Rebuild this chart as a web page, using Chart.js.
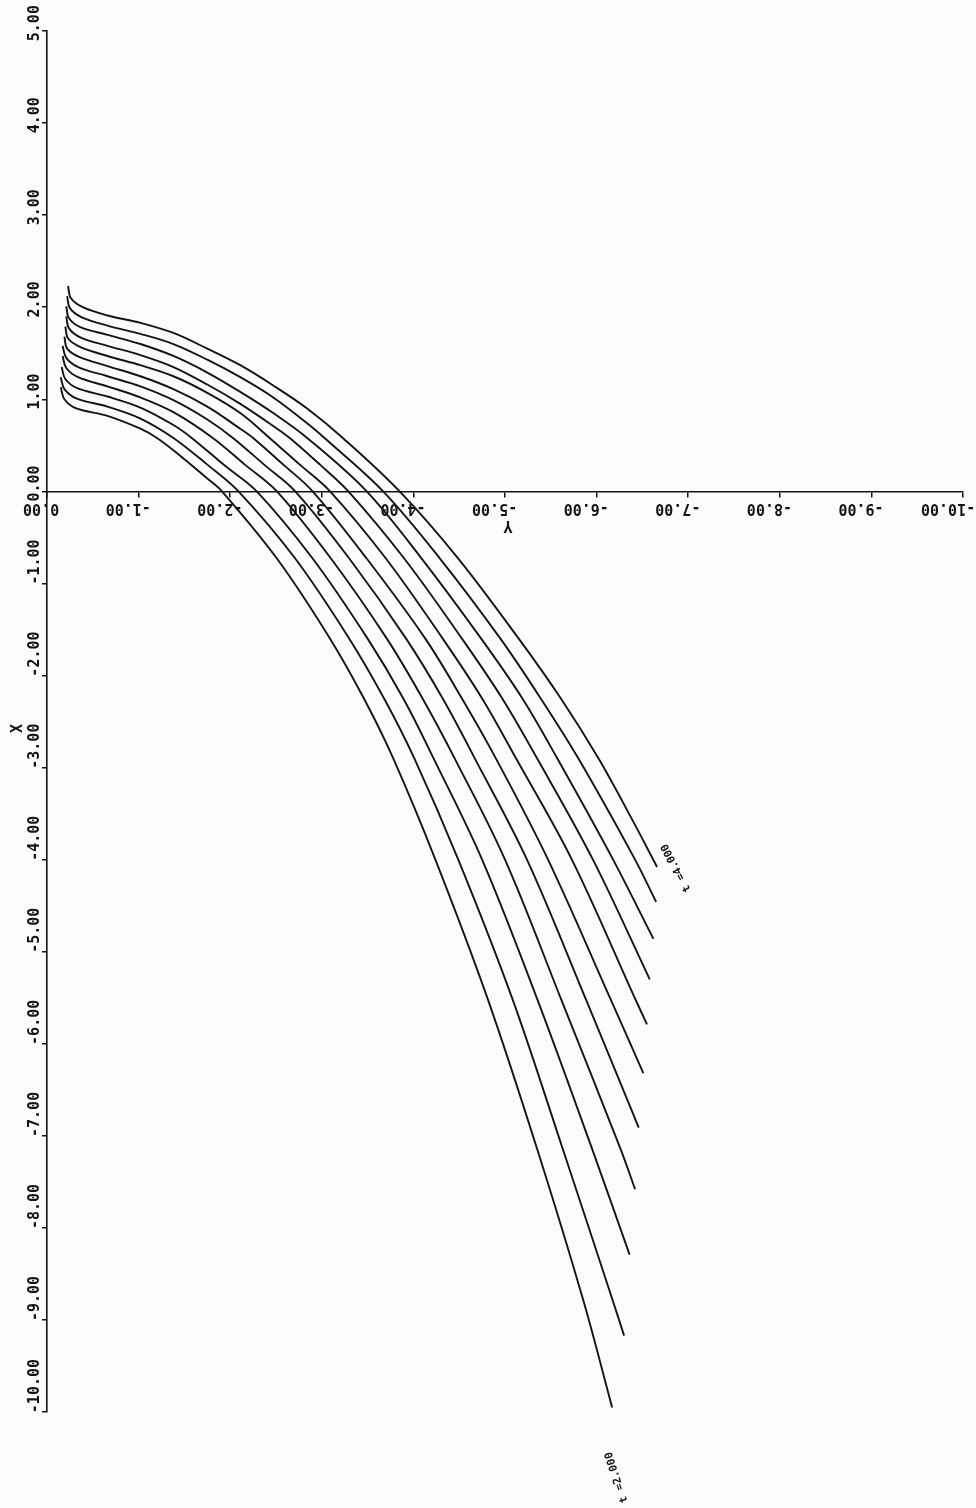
<!DOCTYPE html>
<html>
<head>
<meta charset="utf-8">
<title>Curves t = 2.0 .. 4.0</title>
<script src="https://cdn.jsdelivr.net/npm/chart.js@4.4.0/dist/chart.umd.min.js"></script>
<style>
  body { margin: 0; background: #fbfbfa; }
</style>
</head>
<body>
<canvas id="chart-curves" width="976" height="1508"></canvas>
<script>
// parameter of each curve, bottom (leftmost) curve first
const t_values = [2.0, 2.2, 2.4, 2.6, 2.8, 3.0, 3.2, 3.4, 3.6, 3.8, 4.0];

// points, each one is [Y, X]
// (Y runs along the horizontal axis, X along the vertical one)
const curve_t20 = [[-0.15,1.13],[-0.19,1.00],[-0.32,0.90],[-0.66,0.82],[-1.02,0.68],[-1.20,0.58],[-1.40,0.43],[-1.75,0.14],[-1.91,0.00],[-2.51,-0.73],[-3.09,-1.60],[-3.46,-2.25],[-3.78,-2.90],[-4.24,-4.00],[-4.81,-5.51],[-5.35,-7.14],[-5.85,-8.77],[-6.17,-9.95]];
const curve_t22 = [[-0.15,1.24],[-0.19,1.11],[-0.32,1.01],[-0.66,0.92],[-1.02,0.79],[-1.38,0.58],[-1.75,0.29],[-2.09,0.00],[-2.71,-0.73],[-3.30,-1.60],[-3.68,-2.25],[-4.01,-2.90],[-4.49,-4.00],[-5.08,-5.51],[-5.63,-7.14],[-6.17,-8.77],[-6.30,-9.17]];
const curve_t24 = [[-0.16,1.35],[-0.20,1.22],[-0.33,1.12],[-0.66,1.03],[-1.02,0.91],[-1.38,0.72],[-1.58,0.58],[-1.94,0.28],[-2.29,0.00],[-2.90,-0.73],[-3.50,-1.60],[-3.89,-2.25],[-4.22,-2.90],[-4.75,-4.00],[-5.35,-5.51],[-5.95,-7.14],[-6.36,-8.29]];
const curve_t26 = [[-0.17,1.47],[-0.21,1.34],[-0.34,1.24],[-0.66,1.14],[-1.02,1.02],[-1.38,0.86],[-1.81,0.58],[-2.16,0.29],[-2.51,0.00],[-3.10,-0.73],[-3.71,-1.60],[-4.10,-2.25],[-4.45,-2.90],[-5.00,-4.00],[-5.61,-5.51],[-6.26,-7.14],[-6.42,-7.58]];
const curve_t28 = [[-0.17,1.58],[-0.21,1.45],[-0.34,1.35],[-0.66,1.25],[-1.02,1.14],[-1.38,0.99],[-1.75,0.78],[-2.03,0.58],[-2.37,0.29],[-2.71,0.00],[-3.30,-0.73],[-3.92,-1.60],[-4.32,-2.25],[-4.67,-2.90],[-5.24,-4.00],[-5.88,-5.51],[-6.46,-6.91]];
const curve_t30 = [[-0.19,1.68],[-0.22,1.55],[-0.35,1.46],[-0.66,1.36],[-1.02,1.25],[-1.38,1.11],[-1.75,0.92],[-2.11,0.68],[-2.25,0.58],[-2.58,0.29],[-2.90,0.00],[-3.49,-0.73],[-4.13,-1.60],[-4.53,-2.25],[-4.90,-2.90],[-5.47,-4.00],[-6.15,-5.51],[-6.51,-6.32]];
const curve_t32 = [[-0.20,1.79],[-0.23,1.66],[-0.36,1.57],[-0.66,1.47],[-1.02,1.37],[-1.38,1.25],[-1.75,1.07],[-2.11,0.85],[-2.43,0.58],[-2.76,0.29],[-3.09,0.00],[-3.70,-0.73],[-4.32,-1.60],[-4.75,-2.25],[-5.12,-2.90],[-5.73,-4.00],[-6.42,-5.51],[-6.55,-5.79]];
const curve_t34 = [[-0.21,1.90],[-0.24,1.77],[-0.37,1.67],[-0.66,1.58],[-1.02,1.48],[-1.38,1.35],[-1.75,1.16],[-2.11,0.95],[-2.47,0.71],[-2.65,0.58],[-2.98,0.29],[-3.29,0.00],[-3.90,-0.73],[-4.53,-1.60],[-4.97,-2.25],[-5.35,-2.90],[-5.96,-4.00],[-6.58,-5.30]];
const curve_t36 = [[-0.21,2.01],[-0.24,1.88],[-0.37,1.78],[-0.66,1.70],[-1.02,1.60],[-1.38,1.47],[-1.75,1.29],[-2.11,1.08],[-2.47,0.85],[-2.84,0.58],[-3.49,0.00],[-4.09,-0.73],[-4.74,-1.60],[-5.19,-2.25],[-5.57,-2.90],[-6.18,-4.00],[-6.62,-4.86]];
const curve_t38 = [[-0.22,2.12],[-0.25,1.99],[-0.38,1.89],[-0.66,1.80],[-1.02,1.71],[-1.38,1.60],[-1.75,1.43],[-2.11,1.24],[-2.47,1.02],[-2.84,0.74],[-3.03,0.58],[-3.67,0.00],[-4.29,-0.73],[-4.95,-1.60],[-5.39,-2.25],[-5.80,-2.90],[-6.42,-4.00],[-6.65,-4.46]];
const curve_t40 = [[-0.23,2.23],[-0.26,2.10],[-0.39,2.00],[-0.66,1.91],[-1.02,1.83],[-1.38,1.72],[-1.75,1.55],[-2.11,1.37],[-2.47,1.15],[-2.84,0.90],[-3.23,0.58],[-3.85,0.00],[-4.49,-0.73],[-5.15,-1.60],[-5.61,-2.25],[-6.02,-2.90],[-6.38,-3.55],[-6.66,-4.08]];

const curves = [curve_t20, curve_t22, curve_t24, curve_t26, curve_t28, curve_t30,
                curve_t32, curve_t34, curve_t36, curve_t38, curve_t40];

// tick values
const X_ticks = [5, 4, 3, 2, 1, 0, -1, -2, -3, -4, -5, -6, -7, -8, -9, -10];   // vertical axis
const Y_ticks = [0, -1, -2, -3, -4, -5, -6, -7, -8, -9, -10];                  // horizontal axis

// the two curve notes: text, where it sits [Y, X] and its angle in degrees
const note_texts = ["t =2.000", "t =4.000"];
const note_points = [[-6.22, -10.71], [-6.87, -4.09]];
const note_angles = [-108, -117.5];

const ink = '#141414';

  // draws the curve notes and the two axis names, turned like the plotter did
  const curveNotes = {
    id: 'curveNotes',
    afterDraw: function(chart){
      let ctx = chart.ctx;
      let xs = chart.scales.x;
      let ys = chart.scales.y;
      let area = chart.chartArea;
      ctx.save();
      ctx.fillStyle = ink;
      ctx.textAlign = 'center';
      ctx.textBaseline = 'middle';
      ctx.font = 'bold 11px "DejaVu Sans Mono"';
      note_texts.forEach(function(text, i){
        ctx.save();
        ctx.translate(xs.getPixelForValue(note_points[i][0]), ys.getPixelForValue(note_points[i][1]));
        ctx.rotate(note_angles[i] * Math.PI / 180);
        ctx.fillText(text, 0, 0);
        ctx.restore();
      });
      ctx.font = 'bold 15px "DejaVu Sans Mono"';
      // X name, left of the vertical axis
      ctx.save();
      ctx.translate(area.left - 29, (area.top + area.bottom) / 2 + 7);
      ctx.rotate(-Math.PI / 2);
      ctx.fillText('X', 0, 0);
      ctx.restore();
      // Y name, under the horizontal axis
      ctx.save();
      ctx.translate((area.left + area.right) / 2 + 3, ys.getPixelForValue(0) + 34);
      ctx.rotate(Math.PI);
      ctx.fillText('Y', 0, 0);
      ctx.restore();
      ctx.restore();
    }
  };

var ctx1 = document.getElementById("chart-curves").getContext("2d");

new Chart(ctx1, {
  type: "scatter",
  data: {
    datasets: curves.map(function(pts, i){
      return {
        label: "t =" + t_values[i].toFixed(3),
        data: pts.map(p => ({ x: p[0], y: p[1] })),
        showLine: true,
        borderColor: ink,
        borderWidth: 1.9,
        pointRadius: 0,
        tension: 0.35,
        fill: false
      };
    })
  },
  options: {
    responsive: false,
    animation: false,
    layout: {
      padding: { left: 7, top: 31, right: 13, bottom: 96 }
    },
    plugins: {
      legend: { display: false },
      tooltip: { enabled: false }
    },
    scales: {
      // horizontal axis (Y), drawn through X = 0, labels upside down
      x: {
        type: 'linear',
        min: -10,
        max: 0,
        reverse: true,
        position: { y: 0 },
        afterBuildTicks: function(scale){
          scale.ticks = Y_ticks.map(v => ({ value: v }));
        },
        grid: {
          drawOnChartArea: false,
          drawTicks: true,
          tickLength: 5,
          color: ink,
          lineWidth: 1.5
        },
        border: { display: true, color: ink, width: 1.6 },
        ticks: {
          autoSkip: false,
          minRotation: 180,
          maxRotation: 180,
          padding: 13,
          labelOffset: -42,
          color: ink,
          font: { family: "DejaVu Sans Mono", size: 15, weight: 'bold', lineHeight: 0.14 },
          callback: function(v){ return Number(v).toFixed(2).padEnd(6, ' '); }
        }
      },
      // vertical axis (X), labels read bottom to top
      y: {
        type: 'linear',
        min: -10,
        max: 5,
        position: 'left',
        afterBuildTicks: function(scale){
          scale.ticks = X_ticks.map(v => ({ value: v }));
        },
        afterFit: function(scale){
          scale.width = 40;
        },
        grid: {
          drawOnChartArea: false,
          drawTicks: true,
          tickLength: 5,
          color: ink,
          lineWidth: 1.5
        },
        border: { display: true, color: ink, width: 1.6 },
        ticks: {
          autoSkip: false,
          minRotation: 90,
          maxRotation: 90,
          crossAlign: 'near',
          padding: 7,
          labelOffset: -53,
          color: ink,
          font: { family: "DejaVu Sans Mono", size: 15, weight: 'bold' },
          callback: function(v){ return ((v < 0 ? ' ' : '') + Number(v).toFixed(2)).padEnd(7, ' '); }
        }
      }
    }
  },
  plugins: [curveNotes]
});
</script>
</body>
</html>
